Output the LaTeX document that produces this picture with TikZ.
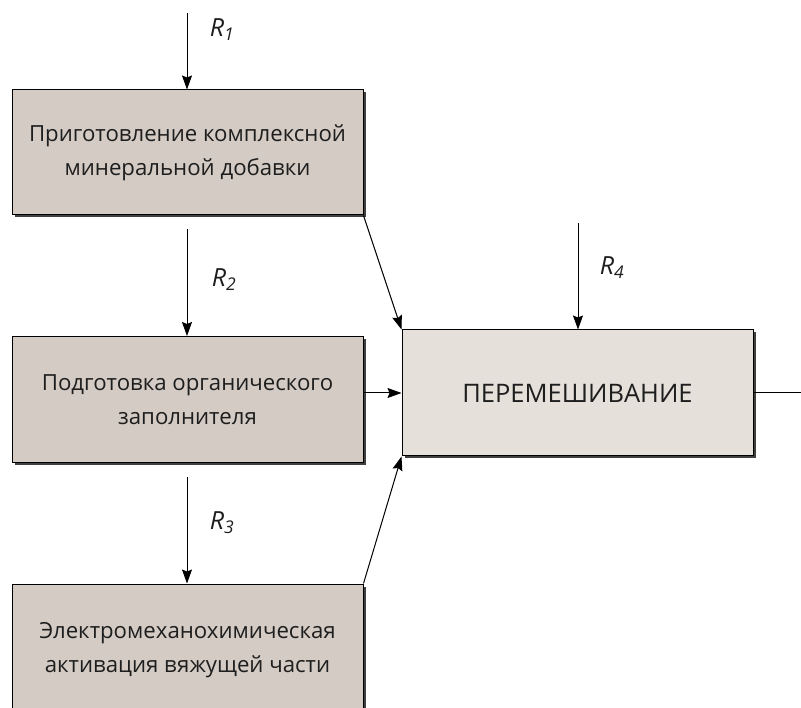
\documentclass[tikz,border=0pt]{standalone}
\usepackage{fontspec}
\setmainfont{Open Sans}
\usetikzlibrary{arrows.meta,shadows}
\definecolor{boxfill}{HTML}{D3CBC4}
\definecolor{mixfill}{HTML}{E6E0DB}
\definecolor{txt}{HTML}{1E1E1E}
\begin{document}
\begin{tikzpicture}[x=1pt,y=-1pt,
  procbox/.style={draw=black, line width=1pt, fill=boxfill, minimum width=351pt,
    align=center, font=\fontsize{22.2}{34}\selectfont, text=txt,
    drop shadow={shadow xshift=2.5pt, shadow yshift=-2.5pt, fill=black!75, opacity=1}},
  mixbox/.style={procbox, fill=mixfill, font=\fontsize{25.5}{30}\selectfont},
  flow/.style={line width=1pt, -{Stealth[length=14pt,width=10pt,inset=2pt]}},
  rlab/.style={font=\fontsize{25}{27}\selectfont\itshape, text=txt}]
\useasboundingbox (0,0) rectangle (801,708);
\begin{scope}
\clip (0,0) rectangle (801,708);
\node[procbox, minimum height=125pt] (b1) at (187.5,152.5) {Приготовление комплексной\\минеральной добавки};
\node[procbox, minimum height=126pt] (b2) at (187.5,399.5) {Подготовка органического\\заполнителя};
\node[procbox, minimum height=135pt] (b3) at (187.5,651.5) {};
\node[mixbox, minimum height=126pt] (b4) at (577.5,393) {ПЕРЕМЕШИВАНИЕ};
\node[font=\fontsize{22.2}{34}\selectfont, text=txt, align=center] (t3) at (187.5,650) {Электромеханохимическая\\активация вяжущей части};
\end{scope}
\coordinate (r1s) at (187,13);
\coordinate (r2s) at (187,229);
\coordinate (r3s) at (187,477);
\coordinate (r4s) at (578,223);
\coordinate (out) at (801,393);
\draw[flow] (r1s) -- (b1.north -| r1s);
\draw[flow] (r2s) -- (b2.north -| r2s);
\draw[flow] (r3s) -- (b3.north -| r3s);
\draw[flow] (r4s) -- (b4.north -| r4s);
\draw[flow] (b1.south east) -- (b4.north west);
\draw[flow] (b4.west -| b2.east) -- (b4.west);
\draw[flow] (b3.north east) -- (b4.south west);
\draw[line width=1pt] (b4.east) -- (out);
\node[rlab] (l1) at (222,30) {R\textsubscript{1}};
\node[rlab] (l2) at (224,280) {R\textsubscript{2}};
\node[rlab] (l3) at (222,523) {R\textsubscript{3}};
\node[rlab] (l4) at (612,268) {R\textsubscript{4}};
\end{tikzpicture}
\end{document}
